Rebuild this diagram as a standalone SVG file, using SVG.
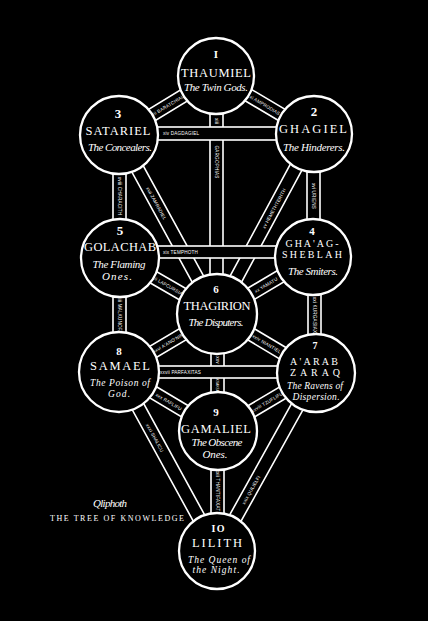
<svg xmlns="http://www.w3.org/2000/svg" width="428" height="621" viewBox="0 0 428 621">
<style>
.bg{fill:#000}
.bar{fill:#000;stroke:#fff;stroke-width:1.6}
.node{fill:#000;stroke:#fff;stroke-width:2.3}
.pl{fill:#fff;font-family:"Liberation Sans",sans-serif;font-size:4.6px;text-anchor:middle;letter-spacing:0.2px}
.num{fill:#fff;font-family:"Liberation Serif",serif;font-size:13px;font-weight:bold;text-anchor:middle}
.name{fill:#fff;font-family:"Liberation Serif",serif;font-size:12.5px;text-anchor:middle}
.name2{fill:#fff;font-family:"Liberation Serif",serif;font-size:10px;text-anchor:middle}
.sub{fill:#fff;font-family:"Liberation Serif",serif;font-style:italic;font-size:11px;text-anchor:middle}
.sub2{fill:#fff;font-family:"Liberation Serif",serif;font-style:italic;font-size:9.5px;text-anchor:middle}
.cap{fill:#fff;font-family:"Liberation Serif",serif}
</style>
<rect class="bg" x="0" y="0" width="428" height="621"/>
<g id="connectors">
  <g transform="translate(216,76) rotate(30.62)"><rect class="bar" x="0" y="-6.5" width="113.9" height="13"/><text class="pl" x="57" y="1.8">xi AMPRODIAS</text></g>
  <g transform="translate(119,135) rotate(-31.31)"><rect class="bar" x="0" y="-6.5" width="113.5" height="13"/><text class="pl" x="57" y="1.8">xii BARATCHIAL</text></g>
  <rect class="bar" x="210" y="76" width="13" height="238"/>
  <text class="pl" transform="translate(216.5,121) rotate(90)" y="1.8">xiii</text>
  <text class="pl" transform="translate(216.5,162) rotate(90)" y="1.8">GARGOPHIAS</text>
  <g transform="translate(217,314) rotate(-61.68)"><rect class="bar" x="0" y="-6.5" width="204.5" height="13"/><text class="pl" x="120" y="1.8">xv HEMETHTERITH</text></g>
  <rect class="bar" x="307" y="134" width="13" height="123"/>
  <text class="pl" transform="translate(313.5,196) rotate(90)" y="1.8">xvi URIENS</text>
  <g transform="translate(119,135) rotate(61.30)"><rect class="bar" x="0" y="-6.5" width="204.1" height="13"/><text class="pl" x="78" y="1.8">xvii ZAMRADIEL</text></g>
  <rect class="bar" x="113" y="135" width="13" height="123"/>
  <text class="pl" transform="translate(119.5,196) rotate(90)" y="1.8">xviii CHARACITH</text>
  <g transform="translate(217,314) rotate(-30.70)"><rect class="bar" x="0" y="-6.5" width="111.6" height="13"/><text class="pl" x="57" y="1.8">xx YAMATU</text></g>
  <g transform="translate(120,258) rotate(30.0)"><rect class="bar" x="0" y="-6.5" width="112" height="13"/><text class="pl" x="55.5" y="1.8">xxii LAFCURSIAX</text></g>
  <rect class="bar" x="308" y="257" width="13" height="116"/>
  <text class="pl" transform="translate(314.5,315) rotate(90)" y="1.8">xxi KURGASIAX</text>
  <rect class="bar" x="113" y="258" width="13" height="114"/>
  <text class="pl" transform="translate(119.5,315) rotate(90)" y="1.8">xxiii MALKUNOFAT</text>
  <g transform="translate(217,314) rotate(30.79)"><rect class="bar" x="0" y="-6.5" width="115.2" height="13"/><text class="pl" x="58" y="1.8">xxiv NIANTIEL</text></g>
  <g transform="translate(119,372) rotate(-30.62)"><rect class="bar" x="0" y="-6.5" width="113.9" height="13"/><text class="pl" x="57" y="1.8">xxvi A'ANO'NIN</text></g>
  <rect class="bar" x="211" y="314" width="13" height="117"/>
  <text class="pl" transform="translate(217.5,360) rotate(90)" y="1.8">xxv</text>
  <text class="pl" transform="translate(217.5,386) rotate(90)" y="1.2" style="font-size:3px">SAKSAKSALIM</text>
  <g transform="translate(218,431) rotate(-30.62)"><rect class="bar" x="0" y="-6.5" width="113.9" height="13"/><text class="pl" x="57" y="1.8">xxviii TZUFLIFU</text></g>
  <g transform="translate(119,372) rotate(30.79)"><rect class="bar" x="0" y="-6.5" width="115.2" height="13"/><text class="pl" x="58" y="1.8">xxx RAFLIFU</text></g>
  <g transform="translate(217,551) rotate(-60.91)"><rect class="bar" x="0" y="-6.5" width="203.7" height="13"/><text class="pl" x="70" y="1.8">xxix QULIELFI</text></g>
  <g transform="translate(119,372) rotate(61.30)"><rect class="bar" x="0" y="-6.5" width="204.1" height="13"/><text class="pl" x="75" y="1.8">xxxi SHALICU</text></g>
  <rect class="bar" x="211" y="431" width="13" height="120"/>
  <text class="pl" transform="translate(217.5,491) rotate(90)" y="1.8">xxxii THANTIFAXATH</text>
  <rect class="bar" x="119" y="127" width="195" height="13"/>
  <text class="pl" x="163" y="135.3" style="text-anchor:start">xiv DAGDAGIEL</text>
  <rect class="bar" x="120" y="246" width="193" height="12"/>
  <text class="pl" x="163" y="253.8" style="text-anchor:start">xix TEMPHOTH</text>
  <rect class="bar" x="119" y="366" width="197" height="12"/>
  <text class="pl" x="160" y="373.8" style="text-anchor:start">xxvii PARFAXITAS</text>
</g>
<g id="node-1">
  <circle class="node" cx="216" cy="76" r="38"/>
  <text class="num" x="216" y="58" style="font-size:11px">I</text>
  <text class="name" x="216" y="77" textLength="70" lengthAdjust="spacing">THAUMIEL</text>
  <text class="sub" x="216" y="91" textLength="64" lengthAdjust="spacing">The Twin Gods.</text>
</g>
<g id="node-2">
  <circle class="node" cx="314" cy="134" r="38"/>
  <text class="num" x="314" y="116">2</text>
  <text class="name" x="313" y="133" textLength="68" lengthAdjust="spacing">GHAGIEL</text>
  <text class="sub" x="314" y="151" textLength="62" lengthAdjust="spacing">The Hinderers.</text>
</g>
<g id="node-3">
  <circle class="node" cx="119" cy="135" r="39"/>
  <text class="num" x="118" y="118">3</text>
  <text class="name" x="118" y="135" textLength="65" lengthAdjust="spacing">SATARIEL</text>
  <text class="sub" x="120" y="151" textLength="64" lengthAdjust="spacing">The Concealers.</text>
</g>
<g id="node-4">
  <circle class="node" cx="313" cy="257" r="38"/>
  <text class="num" x="312" y="235" style="font-size:11px">4</text>
  <text class="name2" x="312" y="246.5" textLength="53" lengthAdjust="spacing">GHA'AG-</text>
  <text class="name2" x="312" y="257.5" textLength="60" lengthAdjust="spacing">SHEBLAH</text>
  <text class="sub" x="313" y="275" textLength="50" lengthAdjust="spacing">The Smiters.</text>
</g>
<g id="node-5">
  <circle class="node" cx="120" cy="258" r="39"/>
  <text class="num" x="120" y="235">5</text>
  <text class="name" x="120" y="251" textLength="72" lengthAdjust="spacing">GOLACHAB</text>
  <text class="sub" x="119" y="268" textLength="53" lengthAdjust="spacing">The Flaming</text>
  <text class="sub" x="117" y="280" textLength="30" lengthAdjust="spacing">Ones.</text>
</g>
<g id="node-6">
  <circle class="node" cx="217" cy="314" r="40"/>
  <text class="num" x="216" y="293" style="font-size:11px">6</text>
  <text class="name" x="217" y="310" textLength="67" lengthAdjust="spacing">THAGIRION</text>
  <text class="sub" x="216" y="326" textLength="55" lengthAdjust="spacing">The Disputers.</text>
</g>
<g id="node-7">
  <circle class="node" cx="316" cy="373" r="39"/>
  <text class="num" x="315" y="349" style="font-size:10px">7</text>
  <text class="name2" x="314" y="364.5" textLength="48" lengthAdjust="spacing">A'ARAB</text>
  <text class="name2" x="315" y="375.5" textLength="50" lengthAdjust="spacing">ZARAQ</text>
  <text class="sub2" x="315" y="388.5" textLength="56" lengthAdjust="spacing">The Ravens of</text>
  <text class="sub2" x="316" y="399.5" textLength="47" lengthAdjust="spacing">Dispersion.</text>
</g>
<g id="node-8">
  <circle class="node" cx="119" cy="372" r="40"/>
  <text class="num" x="119" y="355" style="font-size:11px">8</text>
  <text class="name" x="120" y="370" textLength="60" lengthAdjust="spacing">SAMAEL</text>
  <text class="sub2" x="120" y="385.5" textLength="60" lengthAdjust="spacing">The Poison of</text>
  <text class="sub2" x="119" y="396.5" textLength="22" lengthAdjust="spacing">God.</text>
</g>
<g id="node-9">
  <circle class="node" cx="218" cy="431" r="39"/>
  <text class="num" x="216" y="416" style="font-size:11px">9</text>
  <text class="name" x="216" y="433" textLength="70" lengthAdjust="spacing">GAMALIEL</text>
  <text class="sub" x="217" y="446" textLength="51" lengthAdjust="spacing">The Obscene</text>
  <text class="sub" x="215" y="458" textLength="25" lengthAdjust="spacing">Ones.</text>
</g>
<g id="node-10">
  <circle class="node" cx="217" cy="551" r="38"/>
  <text class="num" x="218" y="532" style="font-size:10px" textLength="13" lengthAdjust="spacing">IO</text>
  <text class="name" x="217" y="547" textLength="50" lengthAdjust="spacing">LILITH</text>
  <text class="sub2" x="219" y="562.5" textLength="62" lengthAdjust="spacing">The Queen of</text>
  <text class="sub2" x="216" y="573" textLength="47" lengthAdjust="spacing">the Night.</text>
</g>
<g id="caption">
  <text class="cap" x="110" y="507" style="font-size:11px;font-style:italic;text-anchor:middle" textLength="34" lengthAdjust="spacing">Qliphoth</text>
  <text class="cap" x="50" y="521" style="font-size:8px" textLength="134" lengthAdjust="spacing">THE TREE OF KNOWLEDGE</text>
</g>
</svg>
